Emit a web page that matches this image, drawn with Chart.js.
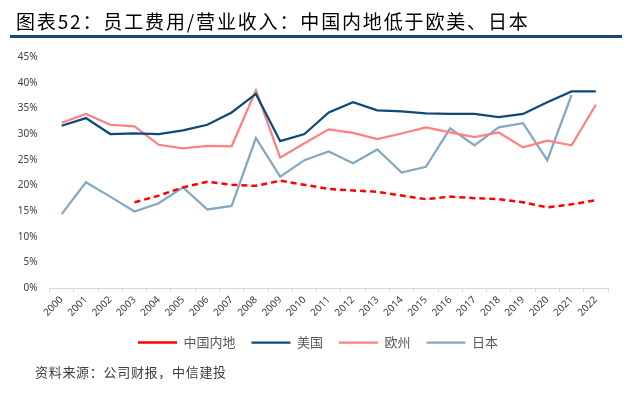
<!DOCTYPE html>
<html>
<head>
<meta charset="utf-8">
<script src="https://cdn.jsdelivr.net/npm/chart.js@4.4.1/dist/chart.umd.min.js"></script>
<style>
  html, body { margin: 0; padding: 0; background: #ffffff; }
  body { width: 636px; height: 395px; position: relative; overflow: hidden; }
  #title { position: absolute; left: 16px; top: 7px; font-family: "Noto Sans CJK SC", sans-serif; font-size: 19px; color: #000; white-space: nowrap; letter-spacing: 1.85px; }
  #rule { position: absolute; left: 10px; top: 35px; width: 612px; height: 3px; background: #1b4677; }
  #source { position: absolute; left: 35px; top: 362px; font-family: "Noto Sans CJK SC", sans-serif; font-size: 13px; color: #404040; white-space: nowrap; letter-spacing: 0.7px; }
  #wrap { position: absolute; left: 0; top: 0; width: 636px; height: 395px; }
</style>
</head>
<body>
<div id="wrap"><canvas id="c" width="636" height="395"></canvas></div>
<div id="title">图表52：员工费用/营业收入：中国内地低于欧美、日本</div>
<div id="rule"></div>
<div id="source">资料来源：公司财报，中信建投</div>
<script>
const years = ["2000","2001","2002","2003","2004","2005","2006","2007","2008","2009","2010","2011","2012","2013","2014","2015","2016","2017","2018","2019","2020","2021","2022"];
const chinaMainland = [null,null,null,16.7,18.0,19.6,20.7,20.1,19.9,20.9,20.1,19.3,19.0,18.75,18.0,17.3,17.8,17.5,17.3,16.7,15.7,16.3,17.1];
const usa = [31.6,33.1,30.0,30.1,30.0,30.7,31.8,34.2,37.8,28.6,30.0,34.2,36.2,34.6,34.4,34.0,33.9,33.9,33.3,33.9,36.2,38.3,38.3];
const europe = [32.2,33.9,31.8,31.5,27.9,27.2,27.7,27.6,38.5,25.4,28.2,30.9,30.2,29.0,30.1,31.3,30.3,29.4,30.3,27.4,28.7,27.8,35.7];
const japan = [14.4,20.6,17.8,14.9,16.5,19.6,15.3,16.0,29.2,21.7,24.9,26.6,24.3,27.0,22.5,23.6,31.1,27.8,31.3,32.1,24.9,37.6,null];
const yTicks = [0,5,10,15,20,25,30,35,40,45];
const legendLabels = ["中国内地", "美国", "欧州", "日本"];

const tickFont = { family: "'Noto Sans', 'Liberation Sans', sans-serif", size: 10 };

const shiftLegend = {
  id: 'shiftLegend',
  afterLayout(chart) {
    const lg = chart.legend;
    if (lg) { lg.left += 14; lg.right += 14; }
  }
};

new Chart(document.getElementById('c'), {
  type: 'line',
  data: {
    labels: years,
    datasets: [
      { label: legendLabels[0], data: chinaMainland, borderColor: '#ff0000', backgroundColor: '#ff0000', borderWidth: 2.5, borderDash: [6, 4], pointRadius: 0, tension: 0 },
      { label: legendLabels[1], data: usa, borderColor: '#0d4a7a', backgroundColor: '#0d4a7a', borderWidth: 2.25, pointRadius: 0, tension: 0 },
      { label: legendLabels[2], data: europe, borderColor: '#ff8080', backgroundColor: '#ff8080', borderWidth: 2.25, pointRadius: 0, tension: 0 },
      { label: legendLabels[3], data: japan, borderColor: '#84a8c2', backgroundColor: '#84a8c2', borderWidth: 2.25, pointRadius: 0, tension: 0 }
    ]
  },
  plugins: [shiftLegend],
  options: {
    responsive: false,
    animation: false,
    devicePixelRatio: 1,
    layout: { padding: { top: 57, right: 28, bottom: 36, left: 0 } },
    plugins: {
      title: { display: false },
      tooltip: { enabled: false },
      legend: {
        position: 'bottom',
        labels: {
          usePointStyle: true,
          pointStyle: 'line',
          pointStyleWidth: 39,
          padding: 16,
          color: '#595959',
          font: { family: "'Noto Sans CJK SC', sans-serif", size: 13 }
        }
      }
    },
    scales: {
      x: {
        offset: true,
        grid: { display: true, drawOnChartArea: false, drawTicks: true, tickLength: 4, color: '#d9d9d9', offset: true },
        border: { display: true, color: '#d9d9d9', width: 1 },
        ticks: { color: '#404040', font: tickFont, minRotation: 45, maxRotation: 45, autoSkip: false, padding: 2 },
        afterFit: s => { s.height = 32; }
      },
      y: {
        min: 0, max: 45,
        afterBuildTicks: s => { s.ticks = yTicks.map(v => ({ value: v })); },
        grid: { display: false, drawTicks: false },
        border: { display: false },
        ticks: { color: '#404040', font: tickFont, padding: 12, callback: v => v + '%' },
        afterFit: s => { s.width = 49.5; }
      }
    }
  }
});
</script>
</body>
</html>
